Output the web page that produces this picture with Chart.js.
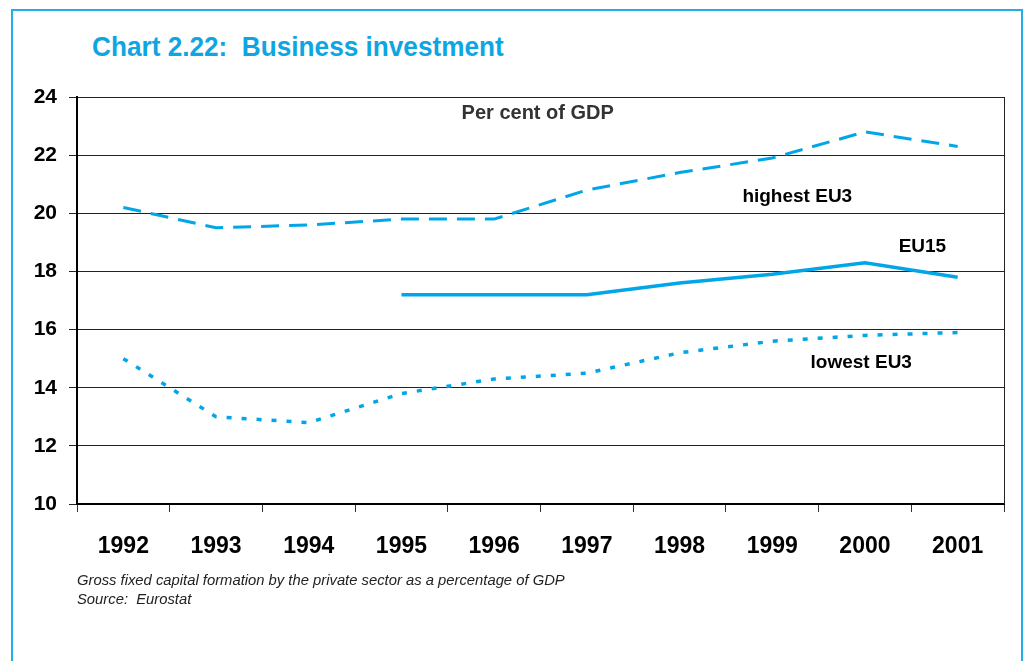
<!DOCTYPE html>
<html>
<head>
<meta charset="utf-8">
<script src="https://cdn.jsdelivr.net/npm/chart.js@4/dist/chart.umd.min.js"></script>
<style>
  html, body { margin: 0; padding: 0; background: #ffffff; }
  #wrap { position: relative; width: 1023px; height: 661px; overflow: hidden; }
  #frame { position: absolute; left: 11px; top: 9px; width: 1008px; height: 700px; border: 2px solid #22aee8; box-sizing: content-box; }
  #title { position: absolute; left: 92px; top: 30px; font-family: "Liberation Sans", Arial, sans-serif; font-weight: bold; font-size: 28px; line-height: 34px; color: #0ea5e3; transform: scaleX(0.935); transform-origin: left center; white-space: pre; }
  .note { position: absolute; left: 77px; font-family: "Liberation Sans", Arial, sans-serif; font-style: italic; font-size: 14.8px; line-height: 18px; color: #222; white-space: pre; }
  canvas { position: absolute; left: 0; top: 0; }
</style>
</head>
<body>
<div id="wrap">
  <div id="frame"></div>
  <div id="title">Chart 2.22:  Business investment</div>
  <canvas id="c" width="1023" height="661"></canvas>
  <div class="note" style="top:571px;">Gross fixed capital formation by the private sector as a percentage of GDP</div>
  <div class="note" style="top:590px;">Source:  Eurostat</div>
</div>
<script>
const years = ['1992','1993','1994','1995','1996','1997','1998','1999','2000','2001'];
const highestEU3 = [20.2, 19.5, 19.6, 19.8, 19.8, 20.8, 21.4, 21.9, 22.8, 22.3];
const eu15 = [null, null, null, 17.2, 17.2, 17.2, 17.6, 17.9, 18.3, 17.8];
const lowestEU3 = [15.0, 13.0, 12.8, 13.8, 14.3, 14.5, 15.2, 15.6, 15.8, 15.9];
const yTicks = [10, 12, 14, 16, 18, 20, 22, 24];

// in-chart text labels anchored in data coordinates (category index, value)
const noteTexts = ['Per cent of GDP', 'highest EU3', 'EU15', 'lowest EU3'];
const noteX = [4.47, 7.27, 8.62, 7.96];
const noteY = [23.42, 20.56, 18.85, 14.87];

const LINE = '#00a6e8';

const notesPlugin = {
  id: 'notes',
  afterDatasetsDraw(chart) {
    const ctx = chart.ctx;
    const xs = chart.scales.x, ys = chart.scales.y;
    ctx.save();
    ctx.textAlign = 'center';
    ctx.textBaseline = 'middle';
    noteTexts.forEach((t, i) => {
      ctx.font = i === 0 ? 'bold 20px "Liberation Sans", Arial, sans-serif' : 'bold 19px "Liberation Sans", Arial, sans-serif';
      ctx.fillStyle = i === 0 ? '#333333' : '#000000';
      ctx.fillText(t, xs.getPixelForValue(noteX[i]), ys.getPixelForValue(noteY[i]));
    });
    // right border of plot area
    const a = chart.chartArea;
    ctx.strokeStyle = '#222';
    ctx.lineWidth = 1;
    ctx.beginPath();
    ctx.moveTo(Math.round(a.right) + 0.5, a.top);
    ctx.lineTo(Math.round(a.right) + 0.5, a.bottom);
    ctx.stroke();
    ctx.restore();
  }
};

new Chart(document.getElementById('c'), {
  type: 'line',
  data: {
    labels: years,
    datasets: [
      { label: 'highest EU3', data: highestEU3, borderColor: LINE, borderWidth: 3, borderDash: [18, 10], pointRadius: 0, tension: 0, fill: false },
      { label: 'EU15', data: eu15, borderColor: LINE, borderWidth: 3.5, pointRadius: 0, tension: 0, fill: false, spanGaps: false },
      { label: 'lowest EU3', data: lowestEU3, borderColor: LINE, borderWidth: 3.5, borderDash: [5, 10], pointRadius: 0, tension: 0, fill: false }
    ]
  },
  options: {
    responsive: false,
    animation: false,
    devicePixelRatio: 1,
    layout: { padding: { left: 0, top: 97, right: 19, bottom: 0 } },
    plugins: { legend: { display: false }, tooltip: { enabled: false }, title: { display: false } },
    scales: {
      x: {
        type: 'category',
        offset: true,
        grid: { offset: true, drawOnChartArea: false, drawTicks: true, tickLength: 8, color: '#333', lineWidth: 1 },
        border: { display: true, color: '#000', width: 2 },
        ticks: { color: '#000', font: { family: '"Liberation Sans", Arial, sans-serif', weight: 'bold', size: 23 }, padding: 21, maxRotation: 0, autoSkip: false },
        afterFit(scale) { scale.height = 157; }
      },
      y: {
        min: 10, max: 24,
        afterBuildTicks(scale) { scale.ticks = yTicks.map(v => ({ value: v })); },
        grid: { color: '#222', lineWidth: 1, tickLength: 8, drawTicks: true },
        border: { display: true, color: '#000', width: 2 },
        ticks: { color: '#000', font: { family: '"Liberation Sans", Arial, sans-serif', weight: 'bold', size: 21 }, padding: 12 },
        afterFit(scale) { scale.width = 77; }
      }
    }
  },
  plugins: [notesPlugin]
});
</script>
</body>
</html>
